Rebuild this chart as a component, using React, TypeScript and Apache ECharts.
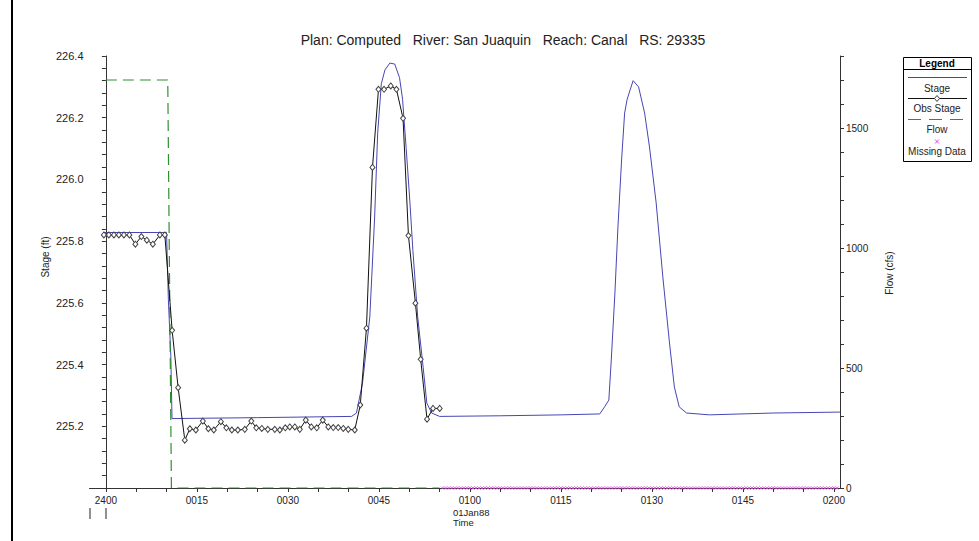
import React, { useEffect, useRef } from 'react';
import * as echarts from 'echarts';

const titleText = 'Plan: Computed   River: San Juaquin   Reach: Canal   RS: 29335';

// Stage (computed) – minutes after 2400, stage in ft
const stageTimes = [-0.4, 10.0, 10.3, 10.7, 10.9, 25.0, 40.5, 41.3, 42.3, 43.5, 44.3, 44.8, 45.4, 46.0, 46.8, 47.6, 48.4, 48.9, 49.5, 50.1, 50.6, 51.4, 52.3, 52.9, 53.7, 55.0, 65.0, 75.0, 81.4, 82.2, 82.9, 83.3, 83.9, 84.4, 85.0, 85.5, 85.9, 86.4, 86.9, 87.8, 88.8, 89.6, 90.7, 91.8, 92.9, 93.7, 94.5, 95.7, 99.5, 110.0, 121.0];
const stageValues = [225.828, 225.828, 225.61, 225.43, 225.225, 225.228, 225.232, 225.243, 225.34, 225.554, 225.878, 226.15, 226.31, 226.355, 226.377, 226.374, 226.33, 226.26, 226.1, 225.93, 225.77, 225.554, 225.39, 225.275, 225.243, 225.232, 225.234, 225.237, 225.24, 225.263, 225.285, 225.415, 225.632, 225.846, 226.063, 226.215, 226.258, 226.29, 226.32, 226.3, 226.215, 226.105, 225.924, 225.684, 225.47, 225.327, 225.263, 225.243, 225.237, 225.243, 225.246];

// Observed stage
const obsTimes = [-0.33, 0.49, 1.32, 2.14, 2.97, 3.87, 4.86, 5.85, 6.75, 7.74, 8.9, 9.72, 10.92, 11.91, 13.01, 13.84, 14.83, 15.98, 16.89, 17.79, 18.95, 19.85, 20.76, 21.75, 22.9, 23.97, 24.79, 25.7, 26.69, 27.84, 28.67, 29.57, 30.31, 31.14, 31.96, 32.95, 33.86, 34.76, 35.75, 36.66, 37.48, 38.3, 39.13, 39.95, 41.02, 41.93, 42.95, 43.94, 44.93, 45.85, 46.95, 47.89, 48.98, 49.87, 51.02, 51.89, 52.93, 53.92, 55.02];
const obsValues = [225.82, 225.82, 225.82, 225.82, 225.82, 225.82, 225.79, 225.815, 225.803, 225.79, 225.82, 225.82, 225.511, 225.325, 225.155, 225.192, 225.188, 225.217, 225.192, 225.188, 225.215, 225.195, 225.188, 225.188, 225.19, 225.217, 225.195, 225.193, 225.19, 225.19, 225.188, 225.195, 225.198, 225.198, 225.19, 225.22, 225.198, 225.195, 225.22, 225.198, 225.196, 225.196, 225.193, 225.19, 225.188, 225.269, 225.518, 226.039, 226.292, 226.292, 226.303, 226.292, 226.198, 225.818, 225.599, 225.417, 225.223, 225.258, 225.258];

// Flow (cfs)
const flowTimes = [0, 10.2, 10.8, 55.0];
const flowValues = [1700, 1700, 0, 0];

// Missing flow data (minutes)
const missingTimes = [55.5, 56, 56.5, 57, 57.5, 58, 58.5, 59, 59.5, 60, 60.5, 61, 61.5, 62, 62.5, 63, 63.5, 64, 64.5, 65, 65.5, 66, 66.5, 67, 67.5, 68, 68.5, 69, 69.5, 70, 70.5, 71, 71.5, 72, 72.5, 73, 73.5, 74, 74.5, 75, 75.5, 76, 76.5, 77, 77.5, 78, 78.5, 79, 79.5, 80, 80.5, 81, 81.5, 82, 82.5, 83, 83.5, 84, 84.5, 85, 85.5, 86, 86.5, 87, 87.5, 88, 88.5, 89, 89.5, 90, 90.5, 91, 91.5, 92, 92.5, 93, 93.5, 94, 94.5, 95, 95.5, 96, 96.5, 97, 97.5, 98, 98.5, 99, 99.5, 100, 100.5, 101, 101.5, 102, 102.5, 103, 103.5, 104, 104.5, 105, 105.5, 106, 106.5, 107, 107.5, 108, 108.5, 109, 109.5, 110, 110.5, 111, 111.5, 112, 112.5, 113, 113.5, 114, 114.5, 115, 115.5, 116, 116.5, 117, 117.5, 118, 118.5, 119, 119.5, 120, 120.5];
const missingValues = missingTimes.map(() => 0);

// Axis ticks / labels
const xTickMinutes = [0, 5, 10, 15, 20, 25, 30, 35, 40, 45, 50, 55, 60, 65, 70, 75, 80, 85, 90, 95, 100, 105, 110, 115, 120];
const xLabelMinutes = [0, 15, 30, 45, 60, 75, 90, 105, 120];
const xLabelTexts = ['2400', '0015', '0030', '0045', '0100', '0115', '0130', '0145', '0200'];
const stageLabelValues = [225.2, 225.4, 225.6, 225.8, 226.0, 226.2, 226.4];
const flowTickValues = [0, 100, 200, 300, 400, 500, 600, 700, 800, 900, 1000, 1100, 1200, 1300, 1400, 1500, 1600, 1700, 1800];
const flowLabelValues = [0, 500, 1000, 1500];

const FONT = '"Liberation Sans", Arial, sans-serif';
const TXT = '#222';
const STAGE_COLOR = '#4646b4';
const FLOW_COLOR = '#2f8f2f';
const MISSING_COLOR = '#dd44dd';

export default function App() {
  const ref = useRef<HTMLDivElement>(null);
  useEffect(() => {
    if (!ref.current) return;
    const chart = echarts.init(ref.current, undefined, { renderer: 'svg' });
    const zip = (a: number[], b: number[]) => a.map((t, i) => [t, b[i]]);
    const legendX = 903;
    const legendY = 57;
    chart.setOption({
      animation: false,
      backgroundColor: '#fff',
      textStyle: { fontFamily: FONT },
      grid: { left: 89.5, right: 139, top: 56, bottom: 53 },
      xAxis: {
        type: 'value',
        min: -2.7,
        max: 121,
        axisLine: { show: true, lineStyle: { color: '#333', width: 1 } },
        axisTick: { show: true, customValues: xTickMinutes, length: 4, lineStyle: { color: '#333' } },
        axisLabel: {
          customValues: xLabelMinutes,
          formatter: (v: number) => {
            const i = xLabelMinutes.indexOf(Math.round(v));
            return i >= 0 ? xLabelTexts[i] : '';
          },
          fontSize: 10,
          color: TXT,
          margin: 7,
          fontFamily: FONT,
        },
        splitLine: { show: false },
      },
      yAxis: [
        {
          type: 'value',
          position: 'left',
          min: 225.0,
          max: 226.4,
          interval: 0.2,
          axisLine: { show: true, lineStyle: { color: '#333' } },
          axisTick: { show: true, length: 4, lineStyle: { color: '#333' } },
          minorTick: { show: true, splitNumber: 5, length: 4, lineStyle: { color: '#333' } },
          axisLabel: {
            customValues: stageLabelValues,
            formatter: (v: number) => v.toFixed(1),
            fontSize: 11,
            color: TXT,
            margin: 6,
            fontFamily: FONT,
          },
          splitLine: { show: false },
        },
        {
          type: 'value',
          position: 'right',
          min: 0,
          max: 1800,
          axisLine: { show: true, lineStyle: { color: '#333' } },
          axisTick: { show: true, customValues: flowTickValues, length: 4, lineStyle: { color: '#333' } },
          axisLabel: {
            customValues: flowLabelValues,
            formatter: (v: number) => String(Math.round(v)),
            fontSize: 10,
            color: TXT,
            margin: 6,
            fontFamily: FONT,
          },
          splitLine: { show: false },
        },
      ],
      series: [
        {
          name: 'Stage',
          type: 'line',
          yAxisIndex: 0,
          data: zip(stageTimes, stageValues),
          showSymbol: false,
          symbol: 'none',
          lineStyle: { color: STAGE_COLOR, width: 1 },
          z: 2,
        },
        {
          name: 'Flow',
          type: 'line',
          yAxisIndex: 1,
          data: zip(flowTimes, flowValues),
          symbol: 'none',
          lineStyle: { color: FLOW_COLOR, width: 1.2, type: [11, 6] },
          z: 3,
        },
        {
          name: 'Obs Stage',
          type: 'line',
          yAxisIndex: 0,
          data: zip(obsTimes, obsValues),
          symbol: 'diamond',
          symbolSize: [5, 6],
          showAllSymbol: true,
          itemStyle: { color: '#fff', borderColor: '#444', borderWidth: 1 },
          lineStyle: { color: '#111', width: 1 },
          z: 4,
        },
        {
          name: 'Missing Data',
          type: 'scatter',
          yAxisIndex: 1,
          data: zip(missingTimes, missingValues),
          symbol: 'path://M0,0L4,4M4,0L0,4',
          symbolSize: 3,
          itemStyle: { color: 'rgba(0,0,0,0)', borderColor: MISSING_COLOR, borderWidth: 1 },
          z: 5,
        },
      ],
      graphic: [
        { type: 'rect', shape: { x: 11, y: 0, width: 2, height: 541 }, style: { fill: '#000' }, silent: true },
        {
          type: 'text', x: 503, y: 40,
          style: { text: titleText, font: `14px ${FONT}`, fill: TXT, textAlign: 'center', textVerticalAlign: 'middle' },
        },
        {
          type: 'text', x: 45, y: 257, rotation: Math.PI / 2,
          style: { text: 'Stage (ft)', font: `10px ${FONT}`, fill: TXT, textAlign: 'center', textVerticalAlign: 'middle' },
        },
        {
          type: 'text', x: 889, y: 273, rotation: Math.PI / 2,
          style: { text: 'Flow (cfs)', font: `10px ${FONT}`, fill: TXT, textAlign: 'center', textVerticalAlign: 'middle' },
        },
        {
          type: 'text', x: 453, y: 512,
          style: { text: '01Jan88', font: `9.5px ${FONT}`, fill: TXT, textAlign: 'left', textVerticalAlign: 'middle' },
        },
        {
          type: 'text', x: 453, y: 522,
          style: { text: 'Time', font: `9.5px ${FONT}`, fill: TXT, textAlign: 'left', textVerticalAlign: 'middle' },
        },
        { type: 'line', shape: { x1: 90, y1: 508, x2: 90, y2: 519 }, style: { stroke: '#222', lineWidth: 1 } },
        { type: 'line', shape: { x1: 106, y1: 508, x2: 106, y2: 519 }, style: { stroke: '#222', lineWidth: 1 } },
        // Legend box
        { type: 'rect', shape: { x: legendX + 0.5, y: legendY + 0.5, width: 68, height: 104 }, style: { fill: '#fff', stroke: '#000', lineWidth: 1 } },
        { type: 'line', shape: { x1: legendX, y1: legendY + 12.5, x2: legendX + 68, y2: legendY + 12.5 }, style: { stroke: '#000', lineWidth: 1 } },
        {
          type: 'text', x: legendX + 34, y: legendY + 6,
          style: { text: 'Legend', font: `bold 10px ${FONT}`, fill: '#000', textAlign: 'center', textVerticalAlign: 'middle' },
        },
        { type: 'line', shape: { x1: legendX + 5, y1: legendY + 20.5, x2: legendX + 64, y2: legendY + 20.5 }, style: { stroke: STAGE_COLOR, lineWidth: 1 } },
        {
          type: 'text', x: legendX + 34, y: legendY + 31,
          style: { text: 'Stage', font: `10px ${FONT}`, fill: TXT, textAlign: 'center', textVerticalAlign: 'middle' },
        },
        { type: 'line', shape: { x1: legendX + 5, y1: legendY + 41.5, x2: legendX + 64, y2: legendY + 41.5 }, style: { stroke: '#111', lineWidth: 1 } },
        { type: 'polygon', shape: { points: [[legendX + 34, legendY + 38.5], [legendX + 36.5, legendY + 41.5], [legendX + 34, legendY + 44.5], [legendX + 31.5, legendY + 41.5]] }, style: { fill: '#fff', stroke: '#444', lineWidth: 1 } },
        {
          type: 'text', x: legendX + 34, y: legendY + 51,
          style: { text: 'Obs Stage', font: `10px ${FONT}`, fill: TXT, textAlign: 'center', textVerticalAlign: 'middle' },
        },
        { type: 'line', shape: { x1: legendX + 5, y1: legendY + 62.5, x2: legendX + 64, y2: legendY + 62.5 }, style: { stroke: FLOW_COLOR, lineWidth: 1, lineDash: [13, 8] } },
        {
          type: 'text', x: legendX + 34, y: legendY + 72,
          style: { text: 'Flow', font: `10px ${FONT}`, fill: TXT, textAlign: 'center', textVerticalAlign: 'middle' },
        },
        { type: 'line', shape: { x1: legendX + 32, y1: legendY + 82.5, x2: legendX + 36, y2: legendY + 86.5 }, style: { stroke: MISSING_COLOR, lineWidth: 1 } },
        { type: 'line', shape: { x1: legendX + 36, y1: legendY + 82.5, x2: legendX + 32, y2: legendY + 86.5 }, style: { stroke: MISSING_COLOR, lineWidth: 1 } },
        {
          type: 'text', x: legendX + 34, y: legendY + 94,
          style: { text: 'Missing Data', font: `10px ${FONT}`, fill: TXT, textAlign: 'center', textVerticalAlign: 'middle' },
        },
      ],
    });
    return () => chart.dispose();
  }, []);
  return (
    <div
      ref={ref}
      style={{ position: 'fixed', left: 0, top: 0, width: 979, height: 541, background: '#fff' }}
    />
  );
}
